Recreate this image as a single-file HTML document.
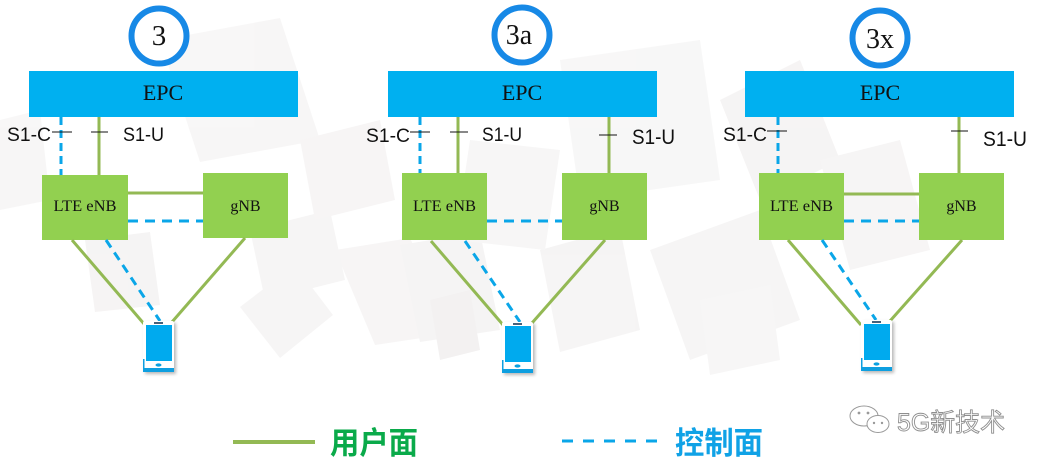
<!DOCTYPE html>
<html><head><meta charset="utf-8"><style>
html,body{margin:0;padding:0;background:#fff;}
svg{display:block;}
.ser{font-family:"Liberation Serif","Noto Serif CJK SC",serif;fill:#111;}
.san{font-family:"Liberation Sans","Noto Sans CJK SC",sans-serif;fill:#111;}
.cjk{font-family:"Liberation Sans","Noto Sans CJK SC",sans-serif;font-weight:700;}
.wm{font-family:"Liberation Sans","Noto Sans CJK SC",sans-serif;}
</style></head><body>
<svg width="1040" height="467" viewBox="0 0 1040 467" xmlns="http://www.w3.org/2000/svg">
<defs>
<filter id="sh" x="-30%" y="-30%" width="160%" height="160%"><feGaussianBlur stdDeviation="1.5"/></filter>
<g id="phone">
  <rect x="2" y="2" width="31" height="51" fill="#000" opacity="0.28" filter="url(#sh)"/>
  <rect x="0" y="0" width="31" height="51" rx="2" fill="#fff"/>
  <rect x="0" y="47" width="31" height="4" fill="#0e9fe0"/>
  <rect x="0" y="38" width="1.5" height="13" fill="#0e9fe0"/>
  <rect x="3" y="4" width="26" height="36" fill="#00aaee"/>
  <rect x="11" y="1.2" width="9" height="1.6" fill="#1a3a5a"/>
  <ellipse cx="15.5" cy="44" rx="3" ry="1.6" fill="#0aa0e0"/>
</g>
</defs>

<!-- faint background shapes -->
<g opacity="0.6">
<polygon points="240,307 295,265 333,315 280,358" fill="#f1efef"/>
<polygon points="335,250 410,238 455,333 375,345" fill="#f2f0f0"/>
<polygon points="160,40 280,18 320,140 200,162" fill="#f3f1f1"/>
<polygon points="85,240 150,232 160,305 95,312" fill="#f0eded"/>
<polygon points="250,230 330,210 345,280 265,300" fill="#f1efef"/>
<polygon points="400,245 480,232 500,330 420,342" fill="#f0eeee"/>
<polygon points="560,60 700,40 720,180 580,200" fill="#f3f2f2"/>
<polygon points="650,250 760,210 800,320 690,360" fill="#f1f0f0"/>
<polygon points="720,100 800,60 840,160 760,200" fill="#f0eded"/>
<polygon points="820,160 900,140 930,250 850,270" fill="#f1efef"/>
<polygon points="540,250 620,228 640,330 560,352" fill="#f0eeee"/>
<polygon points="300,140 380,120 395,200 315,220" fill="#f2f0f0"/>
<polygon points="470,140 560,150 545,250 455,240" fill="#f2f1f1"/>
<polygon points="0,120 40,110 50,200 0,210" fill="#f3f1f1"/>
<polygon points="700,300 770,285 780,360 710,375" fill="#f2f1f1"/>
<polygon points="430,300 470,290 480,350 440,360" fill="#ecE9e9"/>
</g>

<!-- ========== PANEL 1 ========== -->
<circle cx="159" cy="36" r="27.5" fill="#fff" stroke="#1789e6" stroke-width="6"/>
<text x="159" y="45" class="ser" font-size="29" text-anchor="middle">3</text>
<rect x="29" y="71" width="269" height="46" fill="#00b0f0"/>
<text x="163" y="100" class="ser" font-size="22" text-anchor="middle">EPC</text>
<line x1="61" y1="117" x2="61" y2="175" stroke="#0aa6e8" stroke-width="3" stroke-dasharray="8 5"/>
<line x1="99" y1="117" x2="99" y2="175" stroke="#93b954" stroke-width="3"/>
<line x1="52" y1="132" x2="72" y2="132" stroke="#111" stroke-width="1"/>
<line x1="91" y1="132" x2="108" y2="132" stroke="#111" stroke-width="1"/>
<text x="7" y="141" class="san" font-size="19" textLength="44" lengthAdjust="spacingAndGlyphs">S1-C</text>
<text x="123" y="141" class="san" font-size="19" textLength="41" lengthAdjust="spacingAndGlyphs">S1-U</text>
<line x1="128" y1="193" x2="203" y2="193" stroke="#93b954" stroke-width="3"/>
<line x1="128" y1="221" x2="203" y2="221" stroke="#0aa6e8" stroke-width="3" stroke-dasharray="10 7"/>
<rect x="42" y="175" width="86" height="65" fill="#92d050"/>
<rect x="203" y="173" width="85" height="65" fill="#92d050"/>
<text x="85" y="211" class="ser" font-size="16" text-anchor="middle" textLength="63" lengthAdjust="spacingAndGlyphs">LTE eNB</text>
<text x="245.5" y="211" class="ser" font-size="16" text-anchor="middle">gNB</text>
<line x1="72" y1="240" x2="145" y2="325" stroke="#93b954" stroke-width="3"/>
<line x1="245" y1="238" x2="172" y2="322" stroke="#93b954" stroke-width="3"/>
<line x1="106" y1="240" x2="160" y2="321" stroke="#0aa6e8" stroke-width="3" stroke-dasharray="9 6"/>
<use href="#phone" x="143" y="321"/>

<!-- ========== PANEL 2 ========== -->
<circle cx="522" cy="35" r="27.5" fill="#fff" stroke="#1789e6" stroke-width="6"/>
<text x="519" y="44" class="ser" font-size="28" text-anchor="middle">3a</text>
<rect x="388" y="71" width="269" height="46" fill="#00b0f0"/>
<text x="522" y="100" class="ser" font-size="22" text-anchor="middle">EPC</text>
<line x1="420" y1="117" x2="420" y2="173" stroke="#0aa6e8" stroke-width="3" stroke-dasharray="8 5"/>
<line x1="458" y1="117" x2="458" y2="173" stroke="#93b954" stroke-width="3"/>
<line x1="609" y1="117" x2="609" y2="173" stroke="#93b954" stroke-width="3"/>
<line x1="410" y1="132" x2="430" y2="132" stroke="#111" stroke-width="1"/>
<line x1="450" y1="132" x2="468" y2="132" stroke="#111" stroke-width="1"/>
<line x1="599" y1="135" x2="617" y2="135" stroke="#111" stroke-width="1"/>
<text x="366" y="142" class="san" font-size="19" textLength="44" lengthAdjust="spacingAndGlyphs">S1-C</text>
<text x="482" y="141" class="san" font-size="19" textLength="40" lengthAdjust="spacingAndGlyphs">S1-U</text>
<text x="632" y="144" class="san" font-size="21" textLength="43" lengthAdjust="spacingAndGlyphs">S1-U</text>
<line x1="487" y1="221" x2="562" y2="221" stroke="#0aa6e8" stroke-width="3" stroke-dasharray="10 7"/>
<rect x="402" y="173" width="85" height="67" fill="#92d050"/>
<rect x="562" y="173" width="85" height="67" fill="#92d050"/>
<text x="444.5" y="211" class="ser" font-size="16" text-anchor="middle" textLength="63" lengthAdjust="spacingAndGlyphs">LTE eNB</text>
<text x="604.5" y="211" class="ser" font-size="16" text-anchor="middle">gNB</text>
<line x1="431" y1="241" x2="504" y2="326" stroke="#93b954" stroke-width="3"/>
<line x1="605" y1="240" x2="532" y2="323" stroke="#93b954" stroke-width="3"/>
<line x1="465" y1="241" x2="520" y2="322" stroke="#0aa6e8" stroke-width="3" stroke-dasharray="9 6"/>
<use href="#phone" x="502" y="322"/>

<!-- ========== PANEL 3 ========== -->
<circle cx="880" cy="38" r="27.5" fill="#fff" stroke="#1789e6" stroke-width="6"/>
<text x="880" y="48" class="ser" font-size="28" text-anchor="middle">3x</text>
<rect x="745" y="71" width="269" height="46" fill="#00b0f0"/>
<text x="880" y="100" class="ser" font-size="22" text-anchor="middle">EPC</text>
<line x1="778" y1="117" x2="778" y2="173" stroke="#0aa6e8" stroke-width="3" stroke-dasharray="8 5"/>
<line x1="959" y1="117" x2="959" y2="173" stroke="#93b954" stroke-width="3"/>
<line x1="767" y1="131" x2="787" y2="131" stroke="#111" stroke-width="1"/>
<line x1="951" y1="131" x2="968" y2="131" stroke="#111" stroke-width="1"/>
<text x="723" y="141" class="san" font-size="19" textLength="44" lengthAdjust="spacingAndGlyphs">S1-C</text>
<text x="983" y="146" class="san" font-size="21" textLength="44" lengthAdjust="spacingAndGlyphs">S1-U</text>
<line x1="844" y1="194" x2="919" y2="194" stroke="#93b954" stroke-width="3"/>
<line x1="844" y1="221" x2="919" y2="221" stroke="#0aa6e8" stroke-width="3" stroke-dasharray="10 7"/>
<rect x="759" y="173" width="85" height="67" fill="#92d050"/>
<rect x="919" y="173" width="85" height="67" fill="#92d050"/>
<text x="801.5" y="211" class="ser" font-size="16" text-anchor="middle" textLength="63" lengthAdjust="spacingAndGlyphs">LTE eNB</text>
<text x="961.5" y="211" class="ser" font-size="16" text-anchor="middle">gNB</text>
<line x1="788" y1="240" x2="861" y2="325" stroke="#93b954" stroke-width="3"/>
<line x1="962" y1="240" x2="890" y2="321" stroke="#93b954" stroke-width="3"/>
<line x1="822" y1="240" x2="876" y2="320" stroke="#0aa6e8" stroke-width="3" stroke-dasharray="9 6"/>
<use href="#phone" x="861" y="320"/>

<!-- ========== LEGEND ========== -->
<line x1="234" y1="444" x2="316" y2="444" stroke="#000" stroke-width="4" opacity="0.12" filter="url(#sh)"/>
<line x1="233" y1="442" x2="315" y2="442" stroke="#93b954" stroke-width="4"/>
<text x="330" y="454" class="cjk" font-size="31" fill="#0aaa4a" textLength="88" lengthAdjust="spacingAndGlyphs">用户面</text>
<line x1="562" y1="441" x2="657" y2="441" stroke="#0aa6e8" stroke-width="3" stroke-dasharray="11 10"/>
<text x="675" y="454" class="cjk" font-size="31" fill="#10a2e6" textLength="88" lengthAdjust="spacingAndGlyphs">控制面</text>

<!-- watermark -->
<g fill="#fff" stroke="#9a9a9a" stroke-width="1">
  <ellipse cx="864" cy="416" rx="14" ry="10"/>
  <ellipse cx="878" cy="424" rx="11" ry="8.5"/>
</g>
<g fill="#9a9a9a">
  <circle cx="859" cy="413" r="1.4"/><circle cx="868" cy="413" r="1.4"/>
  <circle cx="874" cy="423" r="1.2"/><circle cx="882" cy="423" r="1.2"/>
</g>
<text x="897" y="431" class="wm" font-size="25" fill="#ffffff" stroke="#8f8f8f" stroke-width="0.9" textLength="108" lengthAdjust="spacingAndGlyphs">5G新技术</text>
</svg>
</body></html>
